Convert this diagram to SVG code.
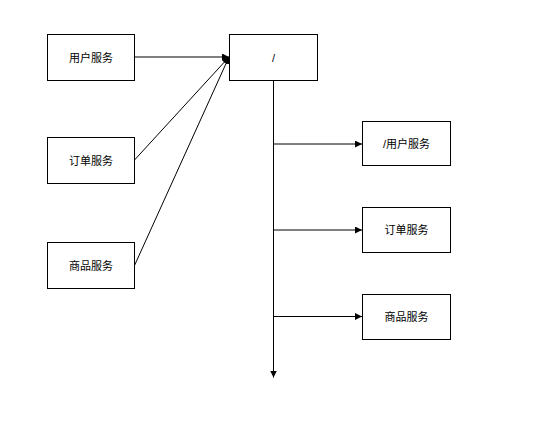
<svg xmlns="http://www.w3.org/2000/svg" width="545" height="421" viewBox="0 0 545 421">
<style>
.n rect{fill:#fff;stroke:#000;stroke-width:1}
.n text{font-family:"Liberation Sans","Noto Sans CJK SC",sans-serif;font-size:11px;fill:#000;text-anchor:middle;dominant-baseline:central}
.c{fill:none;stroke:#000;stroke-width:1}
</style>
<defs>
<marker id="a" viewBox="0 0 10 10" refX="10" refY="5" markerWidth="7" markerHeight="7" markerUnits="userSpaceOnUse" orient="auto"><path d="M0,0L10,5L0,10z" fill="#000"/></marker>
</defs>
<rect width="545" height="421" fill="#fff"/>
<g id="connectors">
<path class="c" d="M134.5,57H229" marker-end="url(#a)"/>
<path class="c" d="M134.5,160L229,57" marker-end="url(#a)"/>
<path class="c" d="M134.5,265.5L229,57" marker-end="url(#a)"/>
<path class="c" d="M273.5,80.5V377.5" marker-end="url(#a)"/>
<path class="c" d="M273.5,144H362" marker-end="url(#a)"/>
<path class="c" d="M273.5,230H362" marker-end="url(#a)"/>
<path class="c" d="M273.5,316.5H362" marker-end="url(#a)"/>
</g>
<g id="user" class="n"><rect x="47.5" y="34.5" width="87" height="46"/><text x="91" y="57.5">用户服务</text></g>
<g id="order" class="n"><rect x="47.5" y="137.5" width="87" height="46"/><text x="91" y="160.5">订单服务</text></g>
<g id="goods" class="n"><rect x="47.5" y="242.5" width="87" height="46"/><text x="91" y="265.5">商品服务</text></g>
<g id="root" class="n"><rect x="229.5" y="34.5" width="88" height="46"/><text x="273.5" y="57.5">/</text></g>
<g id="r-user" class="n"><rect x="362.5" y="121.5" width="88" height="44"/><text x="406.5" y="143.5">/用户服务</text></g>
<g id="r-order" class="n"><rect x="362.5" y="207.5" width="88" height="45"/><text x="406.5" y="230">订单服务</text></g>
<g id="r-goods" class="n"><rect x="362.5" y="294.5" width="88" height="45"/><text x="406.5" y="317">商品服务</text></g>
</svg>
